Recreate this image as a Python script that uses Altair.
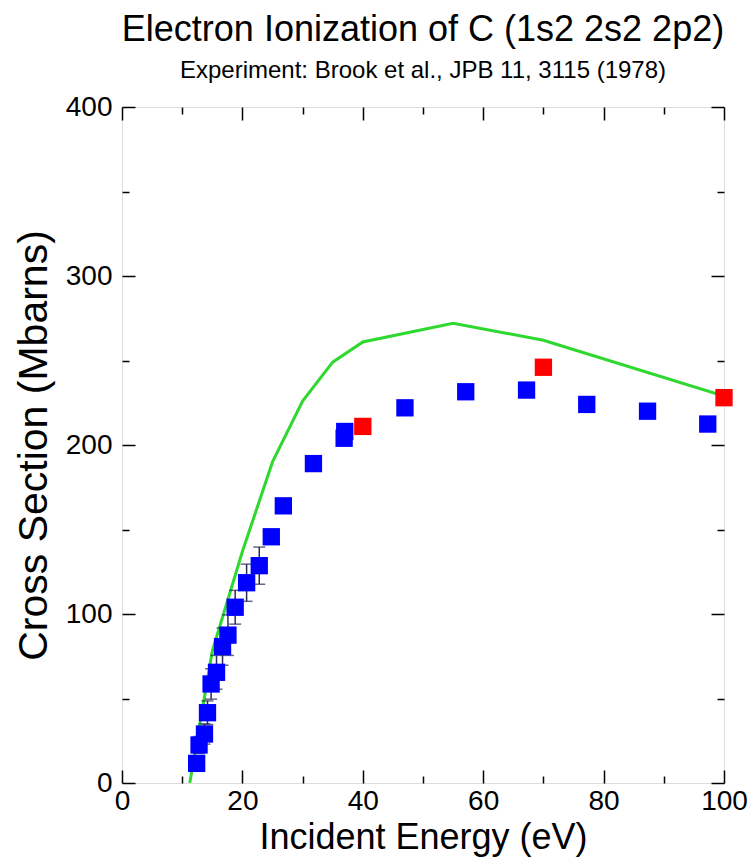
import altair as alt
import pandas as pd

# ---- data ----
blue_e = [12.4, 12.8, 13.7, 14.2, 14.8, 15.7, 16.7, 17.6, 18.8, 20.7, 22.8, 24.8, 26.8,
          31.8, 36.9, 37.0, 47.0, 57.1, 67.2, 77.2, 87.3, 97.3]
blue_s = [11.6, 22.5, 29.0, 41.6, 58.6, 65.5, 80.7, 87.5, 104.0, 118.5, 128.6, 145.7, 164.0,
          189.0, 204.0, 208.0, 222.0, 231.5, 232.5, 224.0, 220.0, 212.4]
blue_err = [4, 5, 6, 7, 9, 10, 11, 12, 10, 11, 11, 0, 0,
            0, 0, 0, 0, 0, 0, 0, 0, 0]

red_e = [40.0, 70.0, 100.0]
red_s = [211.0, 246.0, 228.0]

theory_e = [11.26, 15, 20, 25, 30, 35, 40, 55, 70, 100]
theory_s = [0, 78, 137, 190, 226, 249, 261, 272, 262, 229]

x_major = [0, 20, 40, 60, 80, 100]
x_minor = [10, 30, 50, 70, 90]
y_major = [0, 100, 200, 300, 400]
y_minor = [50, 150, 250, 350]

FONT = "Liberation Sans"

blue = pd.DataFrame({"e": blue_e, "s": blue_s, "err": blue_err})
bars = blue[blue["err"] > 0].copy()
bars["lo"] = bars["s"] - bars["err"]
bars["hi"] = bars["s"] + bars["err"]
caps = pd.concat([
    pd.DataFrame({"e": bars["e"], "v": bars["lo"]}),
    pd.DataFrame({"e": bars["e"], "v": bars["hi"]}),
])
red = pd.DataFrame({"e": red_e, "s": red_s})
theory = pd.DataFrame({"e": theory_e, "s": theory_s})

xs = alt.Scale(domain=[0, 100], nice=False, zero=False)
ys = alt.Scale(domain=[0, 400], nice=False, zero=False)

MAJ = 13
MIN = 7


def ax(orient, values, size, labels=False, title=None, **kw):
    opts = dict(orient=orient, values=values, tickSize=size, offset=-size,
                labels=labels, labelFlush=False, domain=False, grid=False, ticks=True,
                tickColor="black", tickWidth=1.5,
                labelFont=FONT, labelFontSize=28, labelColor="black",
                titleFont=FONT, titleFontSize=36, titleFontWeight="normal",
                titleColor="black")
    opts["title"] = title if title is not None else None
    opts.update(kw)
    return alt.Axis(**opts)


line = alt.Chart(theory).mark_line(color="#2ed82e", strokeWidth=3, clip=True).encode(
    x=alt.X("e:Q", scale=xs,
            axis=ax("bottom", x_major, MAJ, labels=True, title="Incident Energy (eV)",
                    labelPadding=4, titlePadding=5)),
    y=alt.Y("s:Q", scale=ys,
            axis=ax("left", y_major, MAJ, labels=True, title="Cross Section (Mbarns)",
                    labelPadding=10, titlePadding=10, titleFontSize=41)),
)

stems = alt.Chart(bars).mark_rule(color="#2a2a5a", strokeWidth=1.5).encode(
    x=alt.X("e:Q", scale=xs, axis=ax("top", x_major, MAJ)),
    y=alt.Y("lo:Q", scale=ys, axis=ax("right", y_major, MAJ)),
    y2="hi:Q",
)

capmarks = alt.Chart(caps).mark_tick(color="#2a2a5a", orient="horizontal", size=12,
                                     thickness=1.5).encode(
    x=alt.X("e:Q", scale=xs, axis=ax("bottom", x_minor, MIN)),
    y=alt.Y("v:Q", scale=ys, axis=ax("left", y_minor, MIN)),
)

bsq = alt.Chart(blue).mark_square(color="#0000ff", size=300, opacity=1).encode(
    x=alt.X("e:Q", scale=xs, axis=ax("top", x_minor, MIN)),
    y=alt.Y("s:Q", scale=ys, axis=ax("right", y_minor, MIN)),
)

rsq = alt.Chart(red).mark_square(color="#ff0000", size=300, opacity=1, clip=False).encode(
    x=alt.X("e:Q", scale=xs, axis=None),
    y=alt.Y("s:Q", scale=ys, axis=None),
)

chart = alt.layer(line, stems, capmarks, bsq, rsq).resolve_axis(
    x="independent", y="independent"
).resolve_scale(x="shared", y="shared").properties(
    width=602, height=676,
    autosize=alt.AutoSizeParams(type="none"),
    padding={"left": 114, "top": 99, "right": 24, "bottom": 75},
    title=alt.Title(
        "Electron Ionization of C (1s2 2s2 2p2)",
        subtitle="Experiment: Brook et al., JPB 11, 3115 (1978)",
        font=FONT, fontSize=36, fontWeight="normal", color="black",
        subtitleFont=FONT, subtitleFontSize=24, subtitleColor="black",
        subtitlePadding=10, anchor="middle", offset=9,
    ),
).configure_view(stroke="black", strokeWidth=2).configure(background="white")

chart.save("out.html", embed_options={"renderer": "svg", "actions": False})
